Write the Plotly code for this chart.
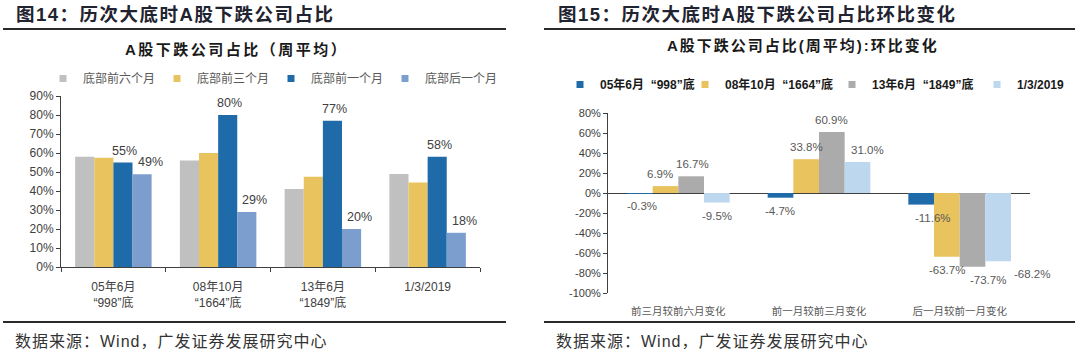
import plotly.graph_objects as go

# ---------------- data ----------------
left_categories = ["05年6月<br>“998”底", "08年10月<br>“1664”底", "13年6月<br>“1849”底", "1/3/2019"]
left_series_names = ["底部前六个月", "底部前三个月", "底部前一个月", "底部后一个月"]
six_months_before = [58, 56, 41, 49]
three_months_before = [57.5, 60, 47.5, 44.5]
one_month_before = [55, 80, 77, 58]
one_month_after = [48.8, 29, 20, 18]

right_categories = ["前三月较前六月变化", "前一月较前三月变化", "后一月较前一月变化"]
right_series_names = ["05年6月  “998”底", "08年10月  “1664”底", "13年6月  “1849”底", "1/3/2019"]
bottom_998 = [-0.3, -4.7, -11.6]
bottom_1664 = [6.9, 33.8, -63.7]
bottom_1849 = [16.7, 60.9, -73.7]
bottom_2019 = [-9.5, 31.0, -68.2]

left_ticks = [0, 10, 20, 30, 40, 50, 60, 70, 80, 90]
right_ticks = [-100, -80, -60, -40, -20, 0, 20, 40, 60, 80]

# which left series carry data labels, and label nudges (px) of the source chart
left_labeled = [False, False, True, True]
left_label_nudge = [0, 0, 2, 8]
right_label_nudge = [[2, 0, 12], [-5, 0, 0], [1, 0, 15], [0, 10, 34]]

# ---------------- style ----------------
W, H = 1080, 353
FONT = "Liberation Sans, Arial, Noto Sans CJK SC, sans-serif"
GRAY_L, YEL, BLUE, LBLUE_L = "#C0C0C0", "#E8C35E", "#1F6BAA", "#7C9ECF"
GRAY_R, LBLUE_R = "#ABABAB", "#BDD7EE"
BARGAP = 0.27


def px_x(x):
    return x / W


def px_y(y):
    return (H - y) / H


def spaced(txt, sp):
    return f'<span style="letter-spacing:{sp}px">{txt}</span>'


L_X0, L_X1, L_Y0, L_Y1 = 61, 480, 267, 96
R_X0, R_X1, R_Y0, R_Y1 = 608, 1030, 293, 113

fig = go.Figure()

# left panel bars
left_vals = [six_months_before, three_months_before, one_month_before, one_month_after]
left_colors = [GRAY_L, YEL, BLUE, LBLUE_L]
for name, vals, col in zip(left_series_names, left_vals, left_colors):
    fig.add_trace(go.Bar(
        x=left_categories, y=vals, name=name, marker=dict(color=col, line=dict(width=0)),
        xaxis="x", yaxis="y", showlegend=False, cliponaxis=False,
    ))
    fig.add_trace(go.Scatter(
        x=[None], y=[None], mode="markers", name=name, legend="legend",
        marker=dict(symbol="square", size=7, color=col), xaxis="x", yaxis="y",
    ))

# right panel bars
right_vals = [bottom_998, bottom_1664, bottom_1849, bottom_2019]
right_colors = [BLUE, YEL, GRAY_R, LBLUE_R]
right_widths = [80, 102, 100, None]
for name, vals, col, lw in zip(right_series_names, right_vals, right_colors, right_widths):
    fig.add_trace(go.Bar(
        x=right_categories, y=vals, name=name, marker=dict(color=col, line=dict(width=0)),
        xaxis="x2", yaxis="y2", showlegend=False, cliponaxis=False,
    ))
    fig.add_trace(go.Scatter(
        x=[None], y=[None], mode="markers", name=name, legend="legend2",
        legendwidth=lw,
        marker=dict(symbol="square", size=7, color=col), xaxis="x2", yaxis="y2",
    ))

L_dom_x = [px_x(L_X0), px_x(L_X1)]
L_dom_y = [px_y(L_Y0), px_y(L_Y1)]
R_dom_x = [px_x(R_X0), px_x(R_X1)]
R_dom_y = [px_y(R_Y0), px_y(R_Y1)]
zero_pos = R_dom_y[0] + (R_dom_y[1] - R_dom_y[0]) * (100 / 180)

axis_common = dict(showgrid=False, zeroline=False, linecolor="#404040", linewidth=1,
                   ticks="outside", tickcolor="#404040", ticklen=4)

fig.update_layout(
    width=W, height=H, margin=dict(l=0, r=0, t=0, b=0, autoexpand=False),
    paper_bgcolor="white", plot_bgcolor="white",
    barmode="group", bargap=BARGAP, bargroupgap=0,
    font=dict(family=FONT, color="#333333"),
    xaxis=dict(domain=L_dom_x, anchor="y", showline=True, tickson="boundaries",
               range=[-0.5, len(left_categories) - 0.5],
               tickfont=dict(size=12, color="#404040"), ticklabelstandoff=9, **axis_common),
    yaxis=dict(domain=L_dom_y, anchor="x", range=[0, 90], tickmode="array", tickvals=left_ticks,
               ticktext=[f"{t}%" for t in left_ticks], showline=True,
               tickfont=dict(size=12, color="#404040"), **axis_common),
    xaxis2=dict(domain=R_dom_x, anchor="y2", showline=False, ticks="", showgrid=False,
                range=[-0.5, len(right_categories) - 0.5],
                zeroline=False, tickfont=dict(size=10.5, color="#595959", family="Noto Sans CJK SC"),
                ticklabelstandoff=10),
    yaxis2=dict(domain=R_dom_y, anchor="x2", range=[-100, 80], tickmode="array",
                tickvals=right_ticks, ticktext=[f"{t}%" for t in right_ticks], showline=True,
                tickfont=dict(size=11, color="#404040"), showgrid=False, zeroline=True,
                zerolinecolor="#404040", zerolinewidth=1, linecolor="#404040", linewidth=1,
                ticks="outside", tickcolor="#404040", ticklen=4),
    xaxis3=dict(overlaying="x2", anchor="free", position=zero_pos, range=[0, 3],
                tickvals=[0, 1, 2, 3], showticklabels=False, showline=True, side="bottom",
                **axis_common),
    legend=dict(orientation="h", x=px_x(43), y=px_y(64), xanchor="left", yanchor="top",
                entrywidth=69, font=dict(size=12, color="#595959", family="Noto Sans CJK SC"),
                itemclick=False, bgcolor="rgba(0,0,0,0)", tracegroupgap=0),
    legend2=dict(orientation="h", x=px_x(560), y=px_y(70), xanchor="left", yanchor="top",
                 font=dict(size=12, color="#1a1a1a", family=FONT, weight="bold"),
                 itemclick=False, bgcolor="rgba(0,0,0,0)"),
)

annotations = []

# data labels for left panel (only the two 1-month series), anchored on the bars via axes
l_bar_px = (L_X1 - L_X0) / len(left_categories) * (1 - BARGAP) / len(left_vals)
for si, vals in enumerate(left_vals):
    if not left_labeled[si]:
        continue
    for ci, v in enumerate(vals):
        annotations.append(dict(
            x=left_categories[ci], y=v, xref="x", yref="y", showarrow=False,
            text=f"{v:.0f}%", xanchor="center", yanchor="bottom",
            xshift=(si - 1.5) * l_bar_px + left_label_nudge[si], yshift=3,
            font=dict(size=12.5, color="#404040", family=FONT),
        ))

# data labels for right panel
r_bar_px = (R_X1 - R_X0) / len(right_categories) * (1 - BARGAP) / len(right_vals)
for si, vals in enumerate(right_vals):
    for ci, v in enumerate(vals):
        annotations.append(dict(
            x=right_categories[ci], y=v, xref="x2", yref="y2", showarrow=False,
            text=f"{v:.1f}%", xanchor="center", yanchor="bottom" if v >= 0 else "top",
            xshift=(si - 1.5) * r_bar_px + right_label_nudge[si][ci],
            yshift=4 if v >= 0 else -5,
            font=dict(size=11.5, color="#595959", family=FONT),
        ))

deco = [
    dict(text="<b>" + spaced("图14：历次大底时A股下跌公司占比", 1.5) + "</b>", x=px_x(14), y=px_y(14),
         xanchor="left", yanchor="middle", font=dict(size=18.5, color="#1f2430")),
    dict(text="<b>" + spaced("图15：历次大底时A股下跌公司占比环比变化", 1.5) + "</b>", x=px_x(556),
         y=px_y(14), xanchor="left", yanchor="middle", font=dict(size=18.5, color="#1f2430")),
    dict(text="<b>" + spaced("A股下跌公司占比（周平均）", 2.5) + "</b>", x=px_x(236), y=px_y(49),
         xanchor="center", yanchor="middle", font=dict(size=15, color="#1a1a1a")),
    dict(text="<b>" + spaced("A股下跌公司占比(周平均):环比变化", 2) + "</b>", x=px_x(803), y=px_y(46),
         xanchor="center", yanchor="middle", font=dict(size=15, color="#1a1a1a")),
    dict(text=spaced("数据来源：Wind，广发证券发展研究中心", 1), x=px_x(13), y=px_y(341),
         xanchor="left", yanchor="middle", font=dict(size=16, color="#333333")),
    dict(text=spaced("数据来源：Wind，广发证券发展研究中心", 1), x=px_x(554), y=px_y(341),
         xanchor="left", yanchor="middle", font=dict(size=16, color="#333333")),
]
for a in deco:
    a.update(xref="paper", yref="paper", showarrow=False)
fig.update_layout(annotations=annotations + deco)

shapes = []
for x0, x1 in [(3, 506), (544, 1075)]:
    for y in (29, 322):
        shapes.append(dict(type="line", xref="paper", yref="paper", x0=px_x(x0), x1=px_x(x1),
                           y0=px_y(y), y1=px_y(y), line=dict(color="#2a2a2a", width=2)))
fig.update_layout(shapes=shapes)

fig.write_html("out.html")
